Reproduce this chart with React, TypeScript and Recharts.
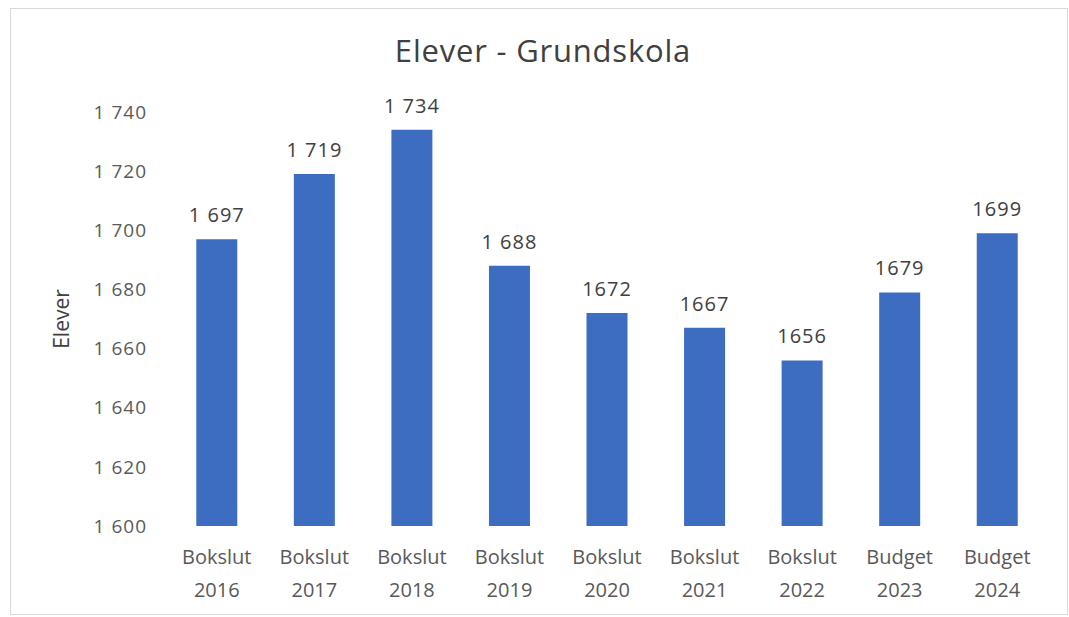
import { BarChart, Bar, XAxis, YAxis, LabelList } from "recharts";

const categories = [
  ["Bokslut", "2016"],
  ["Bokslut", "2017"],
  ["Bokslut", "2018"],
  ["Bokslut", "2019"],
  ["Bokslut", "2020"],
  ["Bokslut", "2021"],
  ["Bokslut", "2022"],
  ["Budget", "2023"],
  ["Budget", "2024"],
];
const elever = [1697, 1719, 1734, 1688, 1672, 1667, 1656, 1679, 1699];
// the source formats some labels with a space, some without
const valueLabels = ["1 697", "1 719", "1 734", "1 688", "1672", "1667", "1656", "1679", "1699"];
const yTicks = [1600, 1620, 1640, 1660, 1680, 1700, 1720, 1740];

const data = categories.map((c, i) => ({
  name: c.join(" "),
  top: c[0],
  bottom: c[1],
  value: elever[i],
  label: valueLabels[i],
}));

const FONT = "'Open Sans', sans-serif";

const formatTick = (v: number) => {
  const s = String(v);
  return s.slice(0, 1) + " " + s.slice(1);
};

function CategoryTick({ x, y, payload }: any) {
  const row = data[payload.index] ?? data.find((d) => d.name === payload.value);
  return (
    <g transform={`translate(${x},${y})`}>
      <text textAnchor="middle" fill="#595959" fontSize={20} fontFamily={FONT}>
        <tspan x={0} dy={30}>{row?.top}</tspan>
        <tspan x={0} dy={33}>{row?.bottom}</tspan>
      </text>
    </g>
  );
}

export default function App() {
  return (
    <div style={{ position: "absolute", left: 0, top: 0, width: 1069, height: 617, background: "#fff" }}>
      <div
        style={{
          position: "absolute",
          left: 10,
          top: 8,
          width: 1058,
          height: 607,
          border: "1.5px solid #d9d9d9",
          boxSizing: "border-box",
        }}
      />
      <div
        style={{
          position: "absolute",
          left: 0,
          width: 1086,
          top: 28,
          textAlign: "center",
          fontFamily: FONT,
          fontSize: 31,
          letterSpacing: 0.8,
          lineHeight: "44px",
          color: "#404040",
        }}
      >
        Elever - Grundskola
      </div>
      <div style={{ position: "absolute", left: 0, top: 0 }}>
        <BarChart
          width={1069}
          height={617}
          data={data}
          margin={{ top: 112, right: 23, left: 0, bottom: 61 }}
          barCategoryGap="29%"
        >
          <XAxis
            dataKey="name"
            axisLine={false}
            tickLine={false}
            interval={0}
            tick={<CategoryTick />}
          />
          <YAxis
            width={168}
            domain={[1600, 1740]}
            ticks={yTicks}
            interval={0}
            allowDataOverflow
            axisLine={false}
            tickLine={false}
            tickMargin={15}
            tickFormatter={formatTick}
            tick={{ fill: "#595959", fontSize: 19, fontFamily: FONT, letterSpacing: 1 }}
            label={{
              value: "Elever",
              angle: -90,
              position: "insideLeft",
              offset: 62,
              style: { fill: "#404040", fontSize: 21, fontFamily: FONT, textAnchor: "middle" },
            }}
          />
          <Bar dataKey="value" fill="#3D6DC0" isAnimationActive={false}>
            <LabelList
              dataKey="label"
              position="top"
              offset={17}
              fill="#404040"
              fontSize={20}
              fontFamily={FONT}
              letterSpacing={1}
            />
          </Bar>
        </BarChart>
      </div>
    </div>
  );
}
